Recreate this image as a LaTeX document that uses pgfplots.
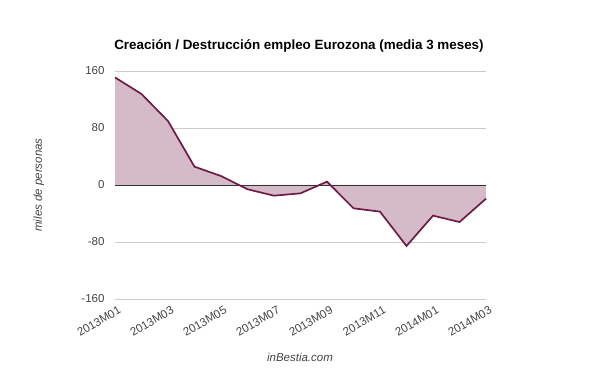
\documentclass[border=0pt]{standalone}
\usepackage{pgfplots}
\pgfplotsset{compat=1.18}
\usepackage{fontspec}
\setmainfont{Liberation Sans}
\definecolor{fillc}{HTML}{D5BAC8}
\definecolor{linec}{HTML}{6E1B48}
\definecolor{gridc}{HTML}{CCCCCC}
\definecolor{textc}{HTML}{444444}
\begin{document}
\begin{tikzpicture}[x=1pt,y=1pt]
\path[use as bounding box] (0,0) rectangle (600,371);
\node[font=\bfseries\fontsize{13.4}{15}\selectfont, anchor=center] at (299,325) {Creación / Destrucción empleo Eurozona (media 3 meses)};
\node[font=\itshape\fontsize{11.5}{13}\selectfont, rotate=90, text=textc] at (39,186) {miles de personas};
\node[font=\itshape\fontsize{11.5}{13}\selectfont, text=textc] at (300,14) {inBestia.com};
\begin{axis}[
  at={(115pt,72pt)}, anchor=south west,
  scale only axis, width=371pt, height=228pt,
  xmin=0, xmax=14, ymin=-160, ymax=160,
  axis line style={draw=none},
  ytick={-160,-80,0,80,160},
  xtick={0,2,...,14},
  xticklabels={2013M01,2013M03,2013M05,2013M07,2013M09,2013M11,2014M01,2014M03},
  ymajorgrids, grid style={gridc, line width=0.8pt},
  major tick length=0pt,
  tick label style={font=\fontsize{11.5}{13}\selectfont, text=textc},
  /pgf/number format/assume math mode=true,
  yticklabel style={anchor=east, xshift=-7pt},
  xticklabel style={rotate=30, anchor=north east, inner sep=1pt, yshift=-6pt, xshift=0pt},
  clip=false,
]
\addplot[fill=fillc, draw=none] coordinates {
(0,0) (0,151) (1,127.7) (2,89.8) (3,25.7) (4,12.6) (5,-6) (6,-15) (7,-11.7) (8,4.7)
(9,-32.7) (10,-37.4) (11,-85.6) (12,-43) (13,-52) (14,-19.2) (14,0)} -- cycle;
\draw[color=black!80, line width=0.8pt] (axis cs:0,0) -- (axis cs:14,0);
\addplot[color=linec, line width=1.7pt, mark=none] coordinates {
(0,151) (1,127.7) (2,89.8) (3,25.7) (4,12.6) (5,-6) (6,-15) (7,-11.7) (8,4.7)
(9,-32.7) (10,-37.4) (11,-85.6) (12,-43) (13,-52) (14,-19.2)};
\end{axis}
\end{tikzpicture}
\end{document}
